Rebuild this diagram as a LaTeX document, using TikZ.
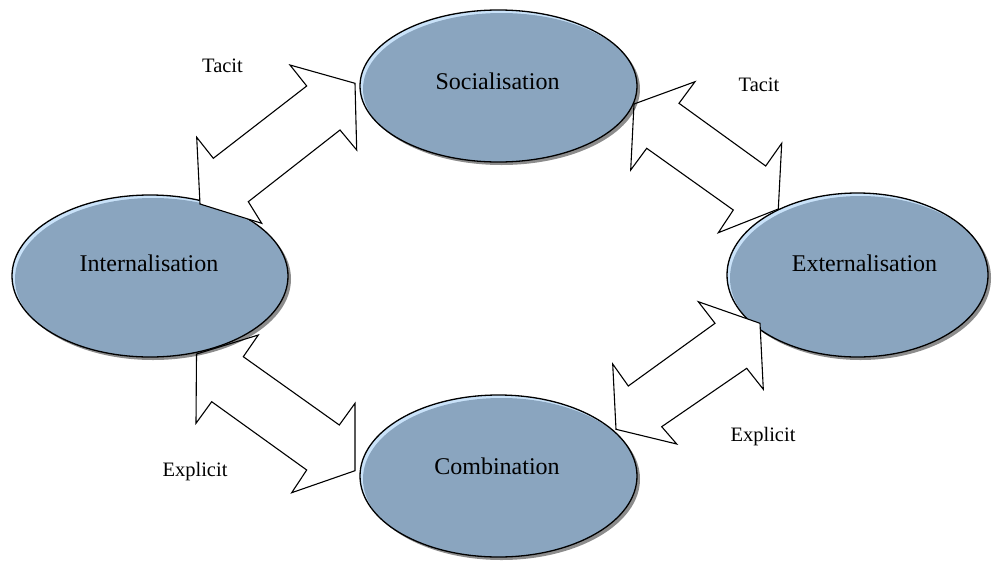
\documentclass[tikz,border=0pt]{standalone}
\usepackage{fontspec}
\setmainfont{Liberation Serif}
\usetikzlibrary{shapes.geometric,shadows}
\definecolor{ellfill}{HTML}{8AA5BF}
\definecolor{ellrim}{HTML}{C9E2F9}
\begin{document}
\begin{tikzpicture}[x=1pt,y=-1pt,
  knot/.style 2 args={ellipse, minimum width=#1pt, minimum height=#2pt,
    inner sep=0pt, draw=black, line width=1.3pt, fill=ellrim,
    drop shadow={shadow xshift=3pt, shadow yshift=-3pt, fill=black, opacity=0.45},
    path picture={\fill[ellfill] ([xshift=3pt,yshift=-3pt]path picture bounding box.center)
      ellipse [x radius={#1pt/2}, y radius={#2pt/2}];}},
  blockarrow/.style={draw=black, fill=white, line width=1.1pt, line join=miter},
  stagetext/.style={font=\fontsize{24}{28}\selectfont, inner sep=0pt, anchor=base},
  modetext/.style={font=\fontsize{20.5}{24}\selectfont, inner sep=0pt, anchor=base}]
\useasboundingbox (0,0) rectangle (993,560);
\clip (0,0) rectangle (993,560);

% lower and right stages
\node[knot={277}{162}] (comb) at (498.5,476) {};
\node[knot={261}{164}] (ext) at (857.5,275) {};

% arrows that pass beneath the upper and left stages
\draw[blockarrow] (634,104) -- (695,81.7) -- (679,103.3) -- (765.7,166) -- (781.7,143.3)
  -- (778.3,209) -- (718.3,232.7) -- (733.3,210) -- (646.7,148.3) -- (630.7,170) -- cycle;
\draw[blockarrow] (196.5,354) -- (258.3,335) -- (243.3,356.7) -- (339.3,425) -- (355,403.3)
  -- (355,470.7) -- (291.7,492.7) -- (306.7,470) -- (211.7,401.7) -- (196,423.3) -- cycle;

% upper and left stages
\node[knot={277}{152}] (soc) at (498.5,86) {};
\node[knot={276}{162}] (int) at (150,276) {};

% arrows drawn over the stages
\draw[blockarrow] (355,83.3) -- (290,65) -- (306.7,86) -- (213.3,158.3) -- (196.7,137.3)
  -- (200,204) -- (261.7,223.3) -- (248.3,201.7) -- (340,130) -- (356.7,150) -- cycle;
\draw[blockarrow] (698.3,301.7) -- (715,323.3) -- (628.3,386) -- (612.7,364) -- (616,429.3)
  -- (676.7,444) -- (661.7,426.7) -- (746.7,368.3) -- (763.3,389.3) -- (760,323.3) -- cycle;

% stage names
\node[stagetext] (soct) at (497.5,89.3) {Socialisation};
\node[stagetext] (intt) at (149,271.7) {Internalisation};
\node[stagetext] (extt) at (864.5,271.7) {Externalisation};
\node[stagetext] (combt) at (497,474) {Combination};

% knowledge modes
\node[modetext] (tacitl) at (222.5,72.7) {Tacit};
\node[modetext] (tacitr) at (759,91.7) {Tacit};
\node[modetext] (explicitl) at (195,476) {Explicit};
\node[modetext] (explicitr) at (763,441) {Explicit};
\end{tikzpicture}
\end{document}
